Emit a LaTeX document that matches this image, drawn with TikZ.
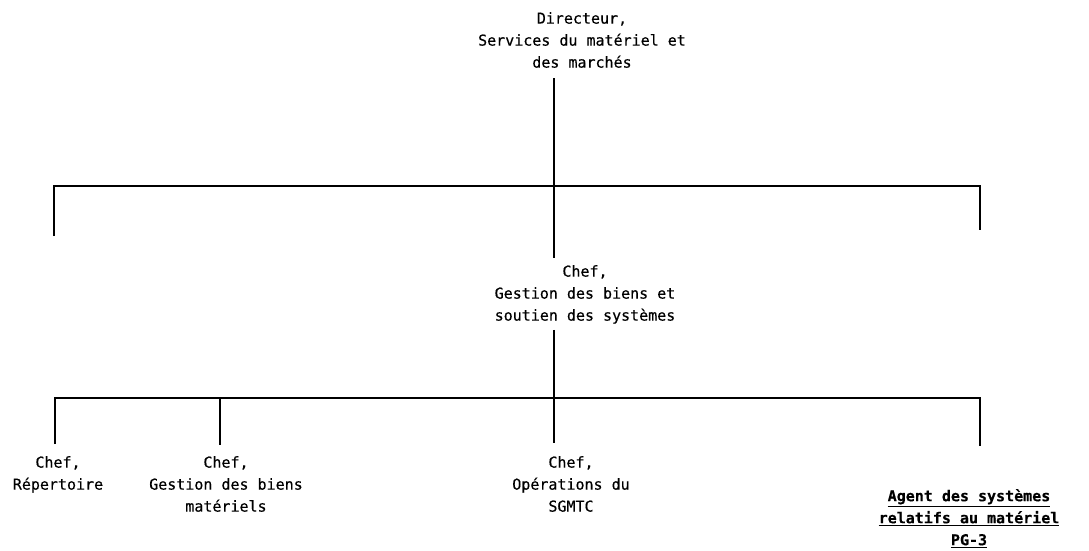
\documentclass[tikz,border=0pt]{standalone}
\usepackage{fontspec}
\setmonofont[FakeBold=0.4]{DejaVu Sans Mono}
\begin{document}
\begin{tikzpicture}[x=1pt,y=-1pt,
  lbl/.style={font=\ttfamily\fontsize{15}{22}\selectfont, align=center, inner sep=0pt, anchor=north},
  agent/.style={lbl, font=\ttfamily\bfseries\fontsize{15}{22}\selectfont},
  link/.style={line width=1.3pt}]
\useasboundingbox (0,0) rectangle (1089,550);

% text blocks
\node[lbl] (dir) at (582,12) {Directeur,\\Services du matériel et\\des marchés};
\node[lbl] (gbs) at (585,265) {Chef,\\Gestion des biens et\\soutien des systèmes};
\node[lbl] (rep) at (58,456) {Chef,\\Répertoire};
\node[lbl] (gbm) at (226,456) {Chef,\\Gestion des biens\\matériels};
\node[lbl] (ops) at (571,456) {Chef,\\Opérations du\\SGMTC};
\node[agent] (agt) at (969,489) {\underline{Agent des systèmes}\\\underline{relatifs au matériel}\\\underline{PG-3}};

% bus coordinates
\coordinate (b1) at (554,186);
\coordinate (l1) at (54,186);
\coordinate (r1) at (980,186);
\coordinate (l1e) at (54,236);
\coordinate (r1e) at (980,230);

\coordinate (b2) at (554,398);
\coordinate (l2) at (55,398);
\coordinate (m2) at (220,398);
\coordinate (r2) at (980,398);
\coordinate (l2e) at (55,444);
\coordinate (m2e) at (220,445);
\coordinate (r2e) at (980,446);

% upper level: director down to the first bus and on to the chief
\draw[link] ([yshift=-10pt]dir.south -| b1) -- ([yshift=7pt]gbs.north -| b1);
\draw[link] (l1e) -- (l1) -- (r1) -- (r1e);

% lower level: chief down to the second bus and the operations chief
\draw[link] ([yshift=-6pt]gbs.south -| b2) -- ([yshift=13pt]ops.north -| b2);
\draw[link] (l2e) -- (l2) -- (r2) -- (r2e);
\draw[link] (m2) -- (m2e);
\end{tikzpicture}
\end{document}
